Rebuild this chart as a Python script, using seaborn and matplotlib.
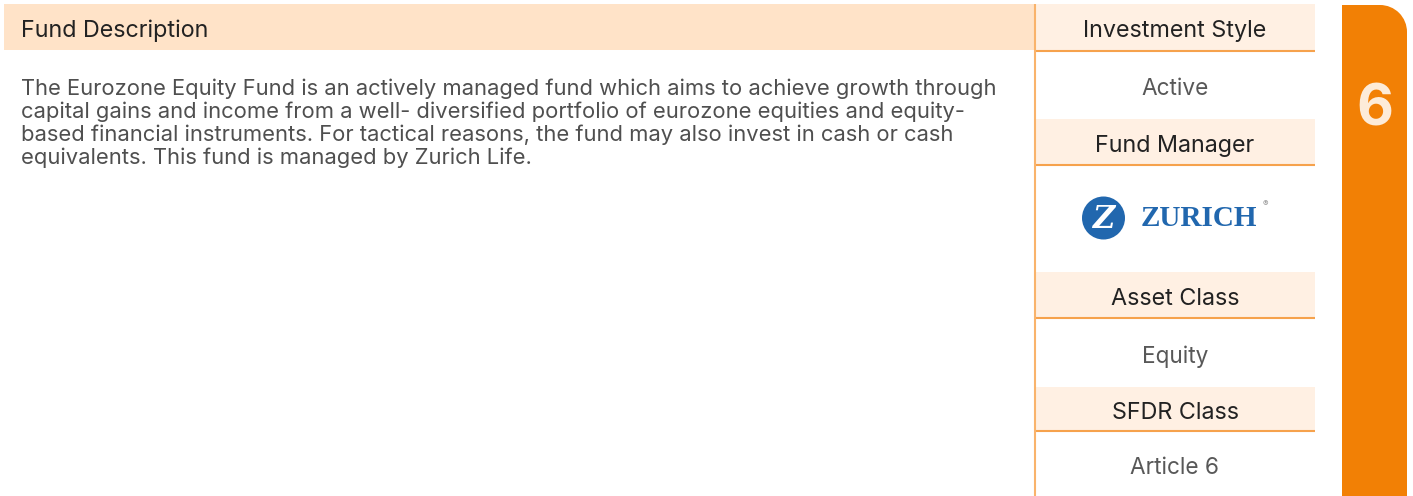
import matplotlib.pyplot as plt
import matplotlib.patches as mpatches
import seaborn as sns

# Content
header_title = "Fund Description"
description_lines = [
    "The Eurozone Equity Fund is an actively managed fund which aims to achieve growth through",
    "capital gains and income from a well- diversified portfolio of eurozone equities and equity-",
    "based financial instruments. For tactical reasons, the fund may also invest in cash or cash",
    "equivalents. This fund is managed by Zurich Life.",
]
panel_labels = ["Investment Style", "Fund Manager", "Asset Class", "SFDR Class"]
panel_values = ["Active", "ZURICH", "Equity", "Article 6"]
risk_class = "6"

# Colours
peach = "#FFE3C8"
light_peach = "#FFF0E3"
line_orange = "#F6A24C"
tab_orange = "#F28005"
zurich_blue = "#2167AE"

sns.set_theme(style="white")
plt.rcParams['font.family'] = ['Inter', 'DejaVu Sans']

fig = plt.figure(figsize=(14.13, 4.96), dpi=100)
ax = fig.add_axes([0, 0, 1, 1])
ax.set_xlim(0, 1413)
ax.set_ylim(496, 0)
ax.axis('off')

# Left header band
ax.add_patch(mpatches.Rectangle((4, 4), 1031, 46, color=peach, lw=0))
ax.text(21, 31, header_title, fontsize=16.8, color="#222222", va='center', ha='left')

# Description text
for i, line in enumerate(description_lines):
    ax.text(21, 89 + i * 23, line, fontsize=15.8, color="#4f4f4f", va='center', ha='left')

# Right panel
px0, px1 = 1035, 1315
pcx = (px0 + px1) / 2
band_tops = [4, 119, 272, 387]
band_bottoms = [51, 165, 318, 431]
value_y = [89, 218, 357, 468]
for lab, val, top, bot, vy in zip(panel_labels, panel_values, band_tops, band_bottoms, value_y):
    ax.add_patch(mpatches.Rectangle((px0, top), px1 - px0, bot - top, color=light_peach, lw=0))
    ax.plot([px0, px1], [bot, bot], color=line_orange, lw=1.5, solid_capstyle='butt')
    ax.text(pcx, (top + bot) / 2 + 4, lab, fontsize=16.8, color="#222222", va='center', ha='center')
    if val == "ZURICH":
        ax.add_patch(mpatches.Circle((1103.5, vy), 21.5, color=zurich_blue, lw=0))
        ax.text(1103.5, vy + 1, "Z", fontsize=22, color="white", fontweight='bold',
                family='DejaVu Serif', va='center', ha='center', fontstyle='italic')
        ax.text(1141, vy, "ZURICH", fontsize=21, color=zurich_blue, fontweight='bold',
                family='Liberation Serif', va='center', ha='left')
        ax.text(1265, vy - 14, "®", fontsize=6, color="#999999", va='center', ha='center')
    else:
        ax.text(pcx, vy, val, fontsize=16.3, color="#585858", va='center', ha='center')

# Vertical divider
ax.plot([px0, px0], [4, 496], color="#F9B36B", lw=1.5, solid_capstyle='butt')

# Risk class tab with rounded top-right corner
tx0, tx1, ttop, r = 1342, 1407, 5, 27
ax.add_patch(mpatches.Rectangle((tx0, ttop), tx1 - tx0 - r, 496 - ttop, color=tab_orange, lw=0))
ax.add_patch(mpatches.Rectangle((tx1 - r - 0.5, ttop + r), r + 0.5, 496 - ttop - r, color=tab_orange, lw=0))
ax.add_patch(mpatches.Circle((tx1 - r, ttop + r), r, color=tab_orange, lw=0))
ax.text((tx0 + tx1) / 2, 110, risk_class, fontsize=41, fontweight='bold',
        color="#FDEBD8", va='center', ha='center')

fig.savefig("out.png", dpi=100)
